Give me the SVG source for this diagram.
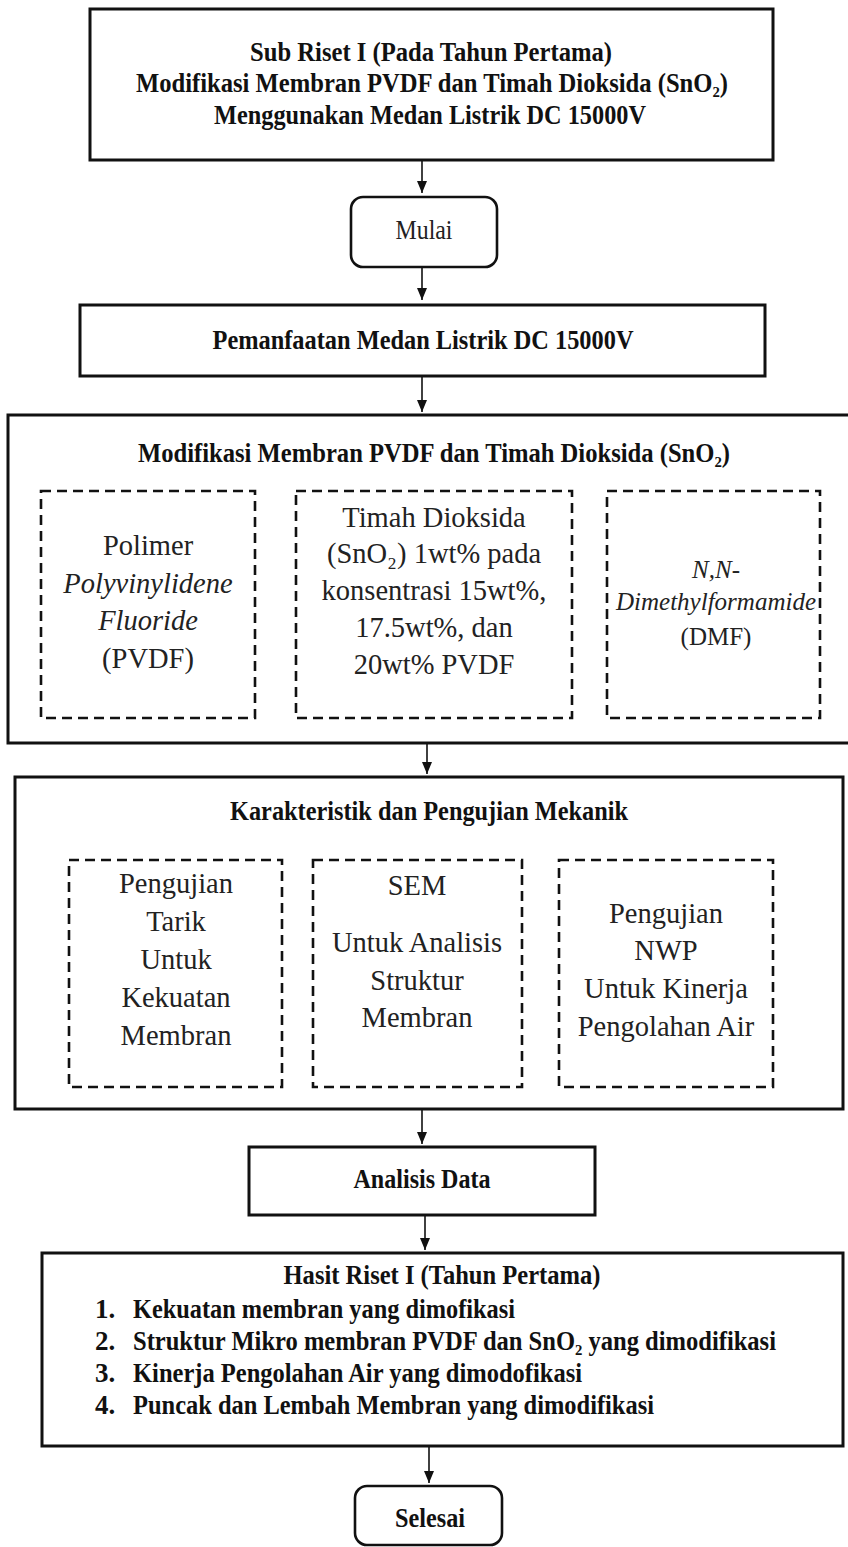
<svg xmlns="http://www.w3.org/2000/svg" width="848" height="1547" viewBox="0 0 848 1547">
<style>
.box{fill:#fff;stroke:#111;stroke-width:3}
.dash{fill:none;stroke:#111;stroke-width:2.6;stroke-dasharray:10 6}
.b{font-family:"Liberation Serif","Times New Roman",serif;font-weight:bold;font-size:27px;text-anchor:middle;fill:#111}
.bl{font-family:"Liberation Serif","Times New Roman",serif;font-weight:bold;font-size:27px;text-anchor:start;fill:#111}
.n{font-family:"Liberation Serif","Times New Roman",serif;font-size:28.5px;text-anchor:middle;fill:#222}
.s{font-size:25px}
.i{font-style:italic}
.con{stroke:#111;stroke-width:1.6;fill:none;marker-end:url(#ah)}
</style>
<defs>
<marker id="ah" markerWidth="12" markerHeight="10" refX="12" refY="5" orient="auto" markerUnits="userSpaceOnUse">
<path d="M0,0 L12,5 L0,10 z" fill="#111"/>
</marker>
</defs>
<rect width="848" height="1547" fill="#fff"/>

<g id="connectors">
<line class="con" x1="422" y1="160" x2="422" y2="193"/>
<line class="con" x1="422" y1="267" x2="422" y2="300"/>
<line class="con" x1="422" y1="376" x2="422" y2="412"/>
<line class="con" x1="427" y1="743" x2="427" y2="774"/>
<line class="con" x1="422" y1="1109" x2="422" y2="1144"/>
<line class="con" x1="425" y1="1215" x2="425" y2="1250"/>
<line class="con" x1="429" y1="1446" x2="429" y2="1483"/>
</g>

<g id="sub-riset">
<rect class="box" x="90" y="9" width="683" height="151"/>
<text class="b" x="431" y="61" textLength="362" lengthAdjust="spacingAndGlyphs">Sub Riset I (Pada Tahun Pertama)</text>
<text class="b" x="432" y="92" textLength="592" lengthAdjust="spacingAndGlyphs">Modifikasi Membran PVDF dan Timah Dioksida (SnO₂)</text>
<text class="b" x="430" y="124" textLength="432" lengthAdjust="spacingAndGlyphs">Menggunakan Medan Listrik DC 15000V</text>
</g>

<g id="mulai">
<rect class="box" x="351" y="197" width="146" height="70" rx="12" ry="12" style="stroke-width:2.6"/>
<text class="n" x="424" y="239" style="font-size:26.5px" textLength="57" lengthAdjust="spacingAndGlyphs">Mulai</text>
</g>

<g id="pemanfaatan">
<rect class="box" x="80" y="305" width="685" height="71"/>
<text class="b" x="423" y="349" textLength="421" lengthAdjust="spacingAndGlyphs">Pemanfaatan Medan Listrik DC 15000V</text>
</g>

<g id="modifikasi">
<rect class="box" x="8" y="415" width="850" height="328"/>
<text class="b" x="434" y="462" textLength="592" lengthAdjust="spacingAndGlyphs">Modifikasi Membran PVDF dan Timah Dioksida (SnO₂)</text>
<g id="pvdf">
<rect class="dash" x="41" y="491" width="214" height="227"/>
<text class="n" x="148" y="555">Polimer</text>
<text class="n i" x="148" y="593">Polyvinylidene</text>
<text class="n i" x="148" y="630">Fluoride</text>
<text class="n" x="148" y="668">(PVDF)</text>
</g>
<g id="sno2">
<rect class="dash" x="296" y="491" width="276" height="227"/>
<text class="n" x="434" y="527">Timah Dioksida</text>
<text class="n" x="434" y="563">(SnO₂) 1wt% pada</text>
<text class="n" x="434" y="600">konsentrasi 15wt%,</text>
<text class="n" x="434" y="637">17.5wt%, dan</text>
<text class="n" x="434" y="674">20wt% PVDF</text>
</g>
<g id="dmf">
<rect class="dash" x="607" y="491" width="213" height="227"/>
<text class="n s i" x="716" y="578">N,N-</text>
<text class="n s i" x="716" y="610">Dimethylformamide</text>
<text class="n s" x="716" y="645">(DMF)</text>
</g>
</g>

<g id="karakteristik">
<rect class="box" x="15" y="777" width="828" height="332"/>
<text class="b" x="429" y="820" textLength="398" lengthAdjust="spacingAndGlyphs">Karakteristik dan Pengujian Mekanik</text>
<g id="tarik">
<rect class="dash" x="69" y="860" width="213" height="227"/>
<text class="n" x="176" y="893">Pengujian</text>
<text class="n" x="176" y="931">Tarik</text>
<text class="n" x="176" y="969">Untuk</text>
<text class="n" x="176" y="1007">Kekuatan</text>
<text class="n" x="176" y="1045">Membran</text>
</g>
<g id="sem">
<rect class="dash" x="313" y="860" width="209" height="227"/>
<text class="n" x="417" y="895">SEM</text>
<text class="n" x="417" y="952">Untuk Analisis</text>
<text class="n" x="417" y="990">Struktur</text>
<text class="n" x="417" y="1027">Membran</text>
</g>
<g id="nwp">
<rect class="dash" x="559" y="860" width="214" height="227"/>
<text class="n" x="666" y="923">Pengujian</text>
<text class="n" x="666" y="960">NWP</text>
<text class="n" x="666" y="998">Untuk Kinerja</text>
<text class="n" x="666" y="1036">Pengolahan Air</text>
</g>
</g>

<g id="analisis">
<rect class="box" x="249" y="1147" width="346" height="68"/>
<text class="b" x="422" y="1188" textLength="137" lengthAdjust="spacingAndGlyphs">Analisis Data</text>
</g>

<g id="hasil">
<rect class="box" x="42" y="1253" width="801" height="193"/>
<text class="b" x="442" y="1284" textLength="317" lengthAdjust="spacingAndGlyphs">Hasit Riset I (Tahun Pertama)</text>
<text class="bl" x="95" y="1318">1.</text>
<text class="bl" x="133" y="1318" textLength="382" lengthAdjust="spacingAndGlyphs">Kekuatan membran yang dimofikasi</text>
<text class="bl" x="95" y="1350">2.</text>
<text class="bl" x="133" y="1350" textLength="643" lengthAdjust="spacingAndGlyphs">Struktur Mikro membran PVDF dan SnO₂ yang dimodifikasi</text>
<text class="bl" x="95" y="1382">3.</text>
<text class="bl" x="133" y="1382" textLength="449" lengthAdjust="spacingAndGlyphs">Kinerja Pengolahan Air yang dimodofikasi</text>
<text class="bl" x="95" y="1414">4.</text>
<text class="bl" x="133" y="1414" textLength="521" lengthAdjust="spacingAndGlyphs">Puncak dan Lembah Membran yang dimodifikasi</text>
</g>

<g id="selesai">
<rect class="box" x="355" y="1486" width="147" height="59" rx="12" ry="12" style="stroke-width:2.6"/>
<text class="b" x="430" y="1527" textLength="70" lengthAdjust="spacingAndGlyphs">Selesai</text>
</g>
</svg>
